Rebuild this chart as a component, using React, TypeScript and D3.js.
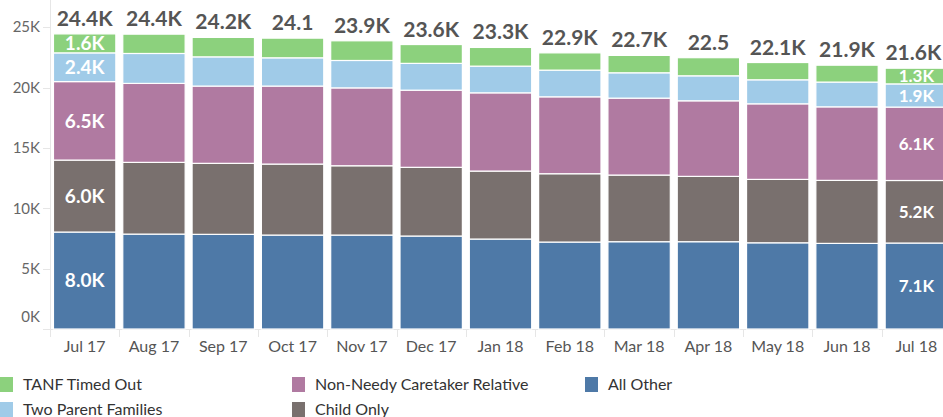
import { useEffect, useRef } from "react";
import * as d3 from "d3";

const months = ["Jul 17", "Aug 17", "Sep 17", "Oct 17", "Nov 17", "Dec 17", "Jan 18", "Feb 18", "Mar 18", "Apr 18", "May 18", "Jun 18", "Jul 18"];
const allOther = [8030, 7860, 7840, 7780, 7780, 7700, 7450, 7200, 7230, 7230, 7140, 7090, 7120];
const childOnly = [5960, 5940, 5880, 5880, 5740, 5690, 5630, 5660, 5520, 5410, 5250, 5220, 5180];
const nonNeedy = [6500, 6540, 6400, 6460, 6450, 6390, 6480, 6370, 6370, 6260, 6260, 6090, 6080];
const twoParent = [2380, 2480, 2420, 2340, 2270, 2220, 2210, 2210, 2100, 2070, 1990, 2050, 1920];
const timedOut = [1570, 1600, 1610, 1630, 1630, 1560, 1550, 1430, 1440, 1500, 1430, 1400, 1300];
const totalLabels = ["24.4K", "24.4K", "24.2K", "24.1", "23.9K", "23.6K", "23.3K", "22.9K", "22.7K", "22.5", "22.1K", "21.9K", "21.6K"];
const yTicks = [0, 5000, 10000, 15000, 20000, 25000];

const seriesKeys = ["allOther", "childOnly", "nonNeedy", "twoParent", "timedOut"];
const seriesNames: Record<string, string> = {
  allOther: "All Other",
  childOnly: "Child Only",
  nonNeedy: "Non-Needy Caretaker Relative",
  twoParent: "Two Parent Families",
  timedOut: "TANF Timed Out"
};
const colors: Record<string, string> = {
  allOther: "#4e79a7",
  childOnly: "#79706e",
  nonNeedy: "#b07aa1",
  twoParent: "#a0cbe8",
  timedOut: "#8cd17d"
};

export default function App() {
  const ref = useRef<SVGSVGElement | null>(null);

  useEffect(() => {
    if (!ref.current) return;
    const svg = d3.select(ref.current);
    svg.selectAll("*").remove();

    const width = 943;
    const height = 417;
    const font = "Lato, 'Open Sans', sans-serif";

    const rows = months.map((m, i) => ({
      month: m,
      allOther: allOther[i],
      childOnly: childOnly[i],
      nonNeedy: nonNeedy[i],
      twoParent: twoParent[i],
      timedOut: timedOut[i]
    }));

    const x = d3.scaleBand()
      .domain(months)
      .range([50, 951])
      .paddingInner(0.1)
      .paddingOuter(0.05);

    const y = d3.scaleLinear()
      .domain([0, 27000])
      .range([329, 3]);

    const stack = d3.stack<any>().keys(seriesKeys);
    const layers = stack(rows);

    svg.attr("width", width).attr("height", height);

    // axis lines
    svg.append("line")
      .attr("x1", 50.5).attr("x2", 50.5)
      .attr("y1", 0).attr("y2", 336)
      .attr("stroke", "#e6e6e6");
    svg.append("line")
      .attr("x1", 43).attr("x2", width)
      .attr("y1", 329.5).attr("y2", 329.5)
      .attr("stroke", "#e6e6e6");

    // y ticks
    const yAxis = svg.append("g");
    yAxis.selectAll("line")
      .data(yTicks)
      .enter()
      .append("line")
      .attr("x1", 43).attr("x2", 50)
      .attr("y1", d => Math.round(y(d)) + 0.5)
      .attr("y2", d => Math.round(y(d)) + 0.5)
      .attr("stroke", "#e6e6e6");
    yAxis.selectAll("text")
      .data(yTicks)
      .enter()
      .append("text")
      .attr("x", 40)
      .attr("y", d => (d === 0 ? y(d) - 12 : y(d)))
      .attr("dy", "0.35em")
      .attr("text-anchor", "end")
      .attr("fill", "#666")
      .style("font-family", font)
      .style("font-size", "15px")
      .text(d => `${d / 1000}K`);

    // x category separators + labels
    const xAxis = svg.append("g");
    xAxis.selectAll("line")
      .data(months)
      .enter()
      .append("line")
      .attr("x1", d => Math.round((x(d) || 0) - x.step() * 0.05) + 0.5)
      .attr("x2", d => Math.round((x(d) || 0) - x.step() * 0.05) + 0.5)
      .attr("y1", 330).attr("y2", 337)
      .attr("stroke", "#e6e6e6");
    xAxis.selectAll("text")
      .data(months)
      .enter()
      .append("text")
      .attr("x", d => (x(d) || 0) + x.bandwidth() / 2)
      .attr("y", 352)
      .attr("text-anchor", "middle")
      .attr("fill", "#555")
      .style("font-family", font)
      .style("font-size", "16px")
      .text(d => d);

    // bars
    const groups = svg.selectAll(".layer")
      .data(layers)
      .enter()
      .append("g")
      .attr("class", "layer")
      .attr("fill", d => colors[d.key]);

    groups.selectAll("rect")
      .data(d => d)
      .enter()
      .append("rect")
      .attr("x", d => x(d.data.month) || 0)
      .attr("width", x.bandwidth())
      .attr("y", d => y(d[1]))
      .attr("height", d => y(d[0]) - y(d[1]))
      .attr("stroke", "#fff")
      .attr("stroke-width", 1.2);

    // segment labels on first and last bars
    layers.forEach(layer => {
      [0, months.length - 1].forEach(i => {
        const d = layer[i];
        svg.append("text")
          .attr("x", (x(months[i]) || 0) + x.bandwidth() / 2)
          .attr("y", (y(d[0]) + y(d[1])) / 2)
          .attr("dy", "0.36em")
          .attr("text-anchor", "middle")
          .attr("fill", "#fff")
          .style("font-family", font)
          .style("font-weight", "700")
          .style("font-size", i === 0 ? "19px" : "17px")
          .text(`${((d[1] - d[0]) / 1000).toFixed(1)}K`);
      });
    });

    // totals
    const top = layers[layers.length - 1];
    svg.selectAll(".total")
      .data(top)
      .enter()
      .append("text")
      .attr("class", "total")
      .attr("x", (d, i) => (x(d.data.month) || 0) + x.bandwidth() / 2 - (i === months.length - 1 ? 3 : 0))
      .attr("y", d => y(d[1]) - 8)
      .attr("text-anchor", "middle")
      .attr("fill", "#555")
      .style("font-family", font)
      .style("font-weight", "700")
      .style("font-size", "21px")
      .text((d, i) => totalLabels[i]);

    // legend
    const legendItems = [
      { key: "timedOut", x: 0, y: 384 },
      { key: "twoParent", x: 0, y: 409 },
      { key: "nonNeedy", x: 292, y: 384 },
      { key: "childOnly", x: 292, y: 409 },
      { key: "allOther", x: 585, y: 384 }
    ];
    const legend = svg.selectAll(".legend")
      .data(legendItems)
      .enter()
      .append("g")
      .attr("class", "legend")
      .attr("transform", d => `translate(${d.x}, ${d.y})`);
    legend.append("rect")
      .attr("x", d => (d.x === 0 ? -4 : 0))
      .attr("y", -7)
      .attr("width", d => (d.x === 0 ? 17 : 13))
      .attr("height", 15)
      .attr("fill", d => colors[d.key]);
    legend.append("text")
      .attr("x", 23)
      .attr("dy", "0.35em")
      .attr("fill", "#333")
      .style("font-family", font)
      .style("font-size", "16px")
      .text(d => seriesNames[d.key]);
  }, []);

  return (
    <div style={{ position: "absolute", left: 0, top: 0, width: 943, height: 417, overflow: "hidden", background: "#fff" }}>
      <svg ref={ref} style={{ display: "block" }} />
    </div>
  );
}
